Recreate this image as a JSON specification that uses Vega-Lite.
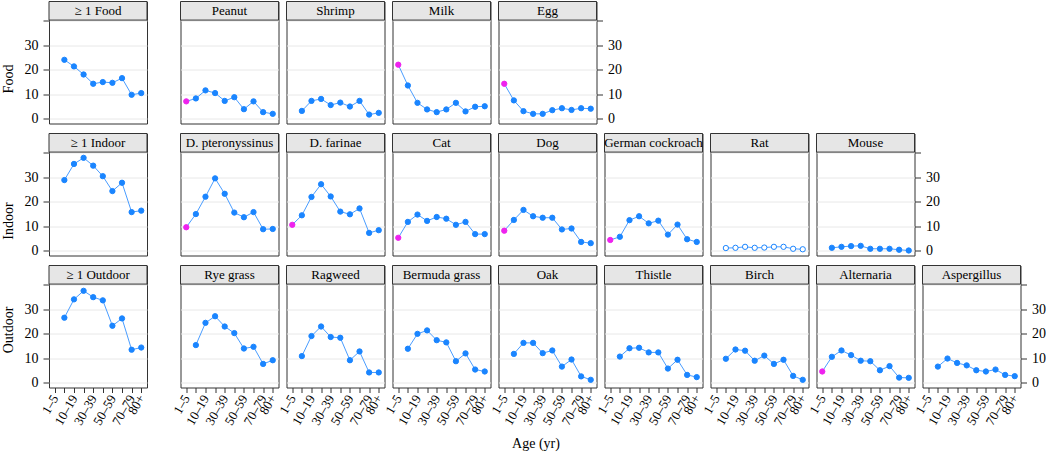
{
  "$schema": "https://vega.github.io/schema/vega-lite/v6.json",
  "padding": {"left": 0, "top": 0.5, "right": 0, "bottom": 0},
  "config": {
    "font": "Liberation Serif",
    "view": {"stroke": "#333333", "strokeWidth": 1},
    "axis": {"labelColor": "black", "tickColor": "#333333", "titleColor": "black", "labelFont": "Liberation Serif", "titleFont": "Liberation Serif", "grid": false},
    "text": {"font": "Liberation Serif"},
    "title": {"font": "Liberation Serif"}
  },
  "title": {"text": "Age (yr)", "orient": "bottom", "anchor": "middle", "fontSize": 14, "fontWeight": "normal", "offset": 9, "dx": 13, "color": "black"},
  "datasets": {
    "d": [
      {"row":"Food","allergen":"≥ 1 Food","age":"6–9","pct":24.0},
      {"row":"Food","allergen":"≥ 1 Food","age":"10–19","pct":21.3},
      {"row":"Food","allergen":"≥ 1 Food","age":"20–29","pct":18.0},
      {"row":"Food","allergen":"≥ 1 Food","age":"30–39","pct":14.2},
      {"row":"Food","allergen":"≥ 1 Food","age":"40–49","pct":14.9},
      {"row":"Food","allergen":"≥ 1 Food","age":"50–59","pct":14.6},
      {"row":"Food","allergen":"≥ 1 Food","age":"60–69","pct":16.5},
      {"row":"Food","allergen":"≥ 1 Food","age":"70–79","pct":9.7},
      {"row":"Food","allergen":"≥ 1 Food","age":"80+","pct":10.4},
      {"row":"Food","allergen":"Peanut","age":"1–5","pct":7.0},
      {"row":"Food","allergen":"Peanut","age":"6–9","pct":8.2},
      {"row":"Food","allergen":"Peanut","age":"10–19","pct":11.5},
      {"row":"Food","allergen":"Peanut","age":"20–29","pct":10.4},
      {"row":"Food","allergen":"Peanut","age":"30–39","pct":7.2},
      {"row":"Food","allergen":"Peanut","age":"40–49","pct":8.7},
      {"row":"Food","allergen":"Peanut","age":"50–59","pct":3.8},
      {"row":"Food","allergen":"Peanut","age":"60–69","pct":7.0},
      {"row":"Food","allergen":"Peanut","age":"70–79","pct":2.6},
      {"row":"Food","allergen":"Peanut","age":"80+","pct":1.9},
      {"row":"Food","allergen":"Shrimp","age":"6–9","pct":3.1},
      {"row":"Food","allergen":"Shrimp","age":"10–19","pct":7.2},
      {"row":"Food","allergen":"Shrimp","age":"20–29","pct":8.0},
      {"row":"Food","allergen":"Shrimp","age":"30–39","pct":5.5},
      {"row":"Food","allergen":"Shrimp","age":"40–49","pct":6.5},
      {"row":"Food","allergen":"Shrimp","age":"50–59","pct":4.9},
      {"row":"Food","allergen":"Shrimp","age":"60–69","pct":7.2},
      {"row":"Food","allergen":"Shrimp","age":"70–79","pct":1.6},
      {"row":"Food","allergen":"Shrimp","age":"80+","pct":2.3},
      {"row":"Food","allergen":"Milk","age":"1–5","pct":22.0},
      {"row":"Food","allergen":"Milk","age":"6–9","pct":13.5},
      {"row":"Food","allergen":"Milk","age":"10–19","pct":6.4},
      {"row":"Food","allergen":"Milk","age":"20–29","pct":3.7},
      {"row":"Food","allergen":"Milk","age":"30–39","pct":2.6},
      {"row":"Food","allergen":"Milk","age":"40–49","pct":3.7},
      {"row":"Food","allergen":"Milk","age":"50–59","pct":6.4},
      {"row":"Food","allergen":"Milk","age":"60–69","pct":2.9},
      {"row":"Food","allergen":"Milk","age":"70–79","pct":4.8},
      {"row":"Food","allergen":"Milk","age":"80+","pct":5.0},
      {"row":"Food","allergen":"Egg","age":"1–5","pct":14.2},
      {"row":"Food","allergen":"Egg","age":"6–9","pct":7.4},
      {"row":"Food","allergen":"Egg","age":"10–19","pct":3.0},
      {"row":"Food","allergen":"Egg","age":"20–29","pct":1.9},
      {"row":"Food","allergen":"Egg","age":"30–39","pct":1.9},
      {"row":"Food","allergen":"Egg","age":"40–49","pct":3.4},
      {"row":"Food","allergen":"Egg","age":"50–59","pct":4.2},
      {"row":"Food","allergen":"Egg","age":"60–69","pct":3.5},
      {"row":"Food","allergen":"Egg","age":"70–79","pct":4.2},
      {"row":"Food","allergen":"Egg","age":"80+","pct":4.0},
      {"row":"Indoor","allergen":"≥ 1 Indoor","age":"6–9","pct":28.8},
      {"row":"Indoor","allergen":"≥ 1 Indoor","age":"10–19","pct":35.4},
      {"row":"Indoor","allergen":"≥ 1 Indoor","age":"20–29","pct":37.9},
      {"row":"Indoor","allergen":"≥ 1 Indoor","age":"30–39","pct":34.7},
      {"row":"Indoor","allergen":"≥ 1 Indoor","age":"40–49","pct":30.4},
      {"row":"Indoor","allergen":"≥ 1 Indoor","age":"50–59","pct":24.3},
      {"row":"Indoor","allergen":"≥ 1 Indoor","age":"60–69","pct":27.7},
      {"row":"Indoor","allergen":"≥ 1 Indoor","age":"70–79","pct":15.7},
      {"row":"Indoor","allergen":"≥ 1 Indoor","age":"80+","pct":16.3},
      {"row":"Indoor","allergen":"D. pteronyssinus","age":"1–5","pct":9.5},
      {"row":"Indoor","allergen":"D. pteronyssinus","age":"6–9","pct":14.9},
      {"row":"Indoor","allergen":"D. pteronyssinus","age":"10–19","pct":22.0},
      {"row":"Indoor","allergen":"D. pteronyssinus","age":"20–29","pct":29.5},
      {"row":"Indoor","allergen":"D. pteronyssinus","age":"30–39","pct":23.2},
      {"row":"Indoor","allergen":"D. pteronyssinus","age":"40–49","pct":15.5},
      {"row":"Indoor","allergen":"D. pteronyssinus","age":"50–59","pct":13.6},
      {"row":"Indoor","allergen":"D. pteronyssinus","age":"60–69","pct":15.7},
      {"row":"Indoor","allergen":"D. pteronyssinus","age":"70–79","pct":8.7},
      {"row":"Indoor","allergen":"D. pteronyssinus","age":"80+","pct":8.8},
      {"row":"Indoor","allergen":"D. farinae","age":"1–5","pct":10.5},
      {"row":"Indoor","allergen":"D. farinae","age":"6–9","pct":14.4},
      {"row":"Indoor","allergen":"D. farinae","age":"10–19","pct":21.9},
      {"row":"Indoor","allergen":"D. farinae","age":"20–29","pct":27.1},
      {"row":"Indoor","allergen":"D. farinae","age":"30–39","pct":22.1},
      {"row":"Indoor","allergen":"D. farinae","age":"40–49","pct":15.9},
      {"row":"Indoor","allergen":"D. farinae","age":"50–59","pct":14.8},
      {"row":"Indoor","allergen":"D. farinae","age":"60–69","pct":17.2},
      {"row":"Indoor","allergen":"D. farinae","age":"70–79","pct":7.2},
      {"row":"Indoor","allergen":"D. farinae","age":"80+","pct":8.3},
      {"row":"Indoor","allergen":"Cat","age":"1–5","pct":5.2},
      {"row":"Indoor","allergen":"Cat","age":"6–9","pct":11.7},
      {"row":"Indoor","allergen":"Cat","age":"10–19","pct":14.7},
      {"row":"Indoor","allergen":"Cat","age":"20–29","pct":12.1},
      {"row":"Indoor","allergen":"Cat","age":"30–39","pct":13.7},
      {"row":"Indoor","allergen":"Cat","age":"40–49","pct":13.0},
      {"row":"Indoor","allergen":"Cat","age":"50–59","pct":10.5},
      {"row":"Indoor","allergen":"Cat","age":"60–69","pct":11.7},
      {"row":"Indoor","allergen":"Cat","age":"70–79","pct":6.7},
      {"row":"Indoor","allergen":"Cat","age":"80+","pct":6.7},
      {"row":"Indoor","allergen":"Dog","age":"1–5","pct":8.1},
      {"row":"Indoor","allergen":"Dog","age":"6–9","pct":12.5},
      {"row":"Indoor","allergen":"Dog","age":"10–19","pct":16.6},
      {"row":"Indoor","allergen":"Dog","age":"20–29","pct":14.0},
      {"row":"Indoor","allergen":"Dog","age":"30–39","pct":13.4},
      {"row":"Indoor","allergen":"Dog","age":"40–49","pct":13.4},
      {"row":"Indoor","allergen":"Dog","age":"50–59","pct":8.6},
      {"row":"Indoor","allergen":"Dog","age":"60–69","pct":9.0},
      {"row":"Indoor","allergen":"Dog","age":"70–79","pct":3.5},
      {"row":"Indoor","allergen":"Dog","age":"80+","pct":3.0},
      {"row":"Indoor","allergen":"German cockroach","age":"1–5","pct":4.3},
      {"row":"Indoor","allergen":"German cockroach","age":"6–9","pct":5.6},
      {"row":"Indoor","allergen":"German cockroach","age":"10–19","pct":12.4},
      {"row":"Indoor","allergen":"German cockroach","age":"20–29","pct":14.0},
      {"row":"Indoor","allergen":"German cockroach","age":"30–39","pct":11.1},
      {"row":"Indoor","allergen":"German cockroach","age":"40–49","pct":12.2},
      {"row":"Indoor","allergen":"German cockroach","age":"50–59","pct":6.5},
      {"row":"Indoor","allergen":"German cockroach","age":"60–69","pct":10.6},
      {"row":"Indoor","allergen":"German cockroach","age":"70–79","pct":4.6},
      {"row":"Indoor","allergen":"German cockroach","age":"80+","pct":3.5},
      {"row":"Indoor","allergen":"Rat","age":"6–9","pct":1.0},
      {"row":"Indoor","allergen":"Rat","age":"10–19","pct":1.1},
      {"row":"Indoor","allergen":"Rat","age":"20–29","pct":1.5},
      {"row":"Indoor","allergen":"Rat","age":"30–39","pct":1.1},
      {"row":"Indoor","allergen":"Rat","age":"40–49","pct":1.2},
      {"row":"Indoor","allergen":"Rat","age":"50–59","pct":1.5},
      {"row":"Indoor","allergen":"Rat","age":"60–69","pct":1.5},
      {"row":"Indoor","allergen":"Rat","age":"70–79","pct":0.7},
      {"row":"Indoor","allergen":"Rat","age":"80+","pct":0.5},
      {"row":"Indoor","allergen":"Mouse","age":"6–9","pct":1.1},
      {"row":"Indoor","allergen":"Mouse","age":"10–19","pct":1.5},
      {"row":"Indoor","allergen":"Mouse","age":"20–29","pct":1.8},
      {"row":"Indoor","allergen":"Mouse","age":"30–39","pct":1.9},
      {"row":"Indoor","allergen":"Mouse","age":"40–49","pct":0.7},
      {"row":"Indoor","allergen":"Mouse","age":"50–59","pct":0.7},
      {"row":"Indoor","allergen":"Mouse","age":"60–69","pct":0.7},
      {"row":"Indoor","allergen":"Mouse","age":"70–79","pct":0.3},
      {"row":"Indoor","allergen":"Mouse","age":"80+","pct":0.0},
      {"row":"Outdoor","allergen":"≥ 1 Outdoor","age":"6–9","pct":26.5},
      {"row":"Outdoor","allergen":"≥ 1 Outdoor","age":"10–19","pct":34.0},
      {"row":"Outdoor","allergen":"≥ 1 Outdoor","age":"20–29","pct":37.5},
      {"row":"Outdoor","allergen":"≥ 1 Outdoor","age":"30–39","pct":34.9},
      {"row":"Outdoor","allergen":"≥ 1 Outdoor","age":"40–49","pct":33.6},
      {"row":"Outdoor","allergen":"≥ 1 Outdoor","age":"50–59","pct":23.2},
      {"row":"Outdoor","allergen":"≥ 1 Outdoor","age":"60–69","pct":26.2},
      {"row":"Outdoor","allergen":"≥ 1 Outdoor","age":"70–79","pct":13.4},
      {"row":"Outdoor","allergen":"≥ 1 Outdoor","age":"80+","pct":14.3},
      {"row":"Outdoor","allergen":"Rye grass","age":"6–9","pct":15.3},
      {"row":"Outdoor","allergen":"Rye grass","age":"10–19","pct":24.4},
      {"row":"Outdoor","allergen":"Rye grass","age":"20–29","pct":27.1},
      {"row":"Outdoor","allergen":"Rye grass","age":"30–39","pct":22.9},
      {"row":"Outdoor","allergen":"Rye grass","age":"40–49","pct":20.2},
      {"row":"Outdoor","allergen":"Rye grass","age":"50–59","pct":13.9},
      {"row":"Outdoor","allergen":"Rye grass","age":"60–69","pct":14.6},
      {"row":"Outdoor","allergen":"Rye grass","age":"70–79","pct":7.6},
      {"row":"Outdoor","allergen":"Rye grass","age":"80+","pct":9.1},
      {"row":"Outdoor","allergen":"Ragweed","age":"6–9","pct":10.8},
      {"row":"Outdoor","allergen":"Ragweed","age":"10–19","pct":19.0},
      {"row":"Outdoor","allergen":"Ragweed","age":"20–29","pct":22.9},
      {"row":"Outdoor","allergen":"Ragweed","age":"30–39","pct":18.6},
      {"row":"Outdoor","allergen":"Ragweed","age":"40–49","pct":18.3},
      {"row":"Outdoor","allergen":"Ragweed","age":"50–59","pct":9.1},
      {"row":"Outdoor","allergen":"Ragweed","age":"60–69","pct":12.7},
      {"row":"Outdoor","allergen":"Ragweed","age":"70–79","pct":4.1},
      {"row":"Outdoor","allergen":"Ragweed","age":"80+","pct":4.1},
      {"row":"Outdoor","allergen":"Bermuda grass","age":"6–9","pct":13.8},
      {"row":"Outdoor","allergen":"Bermuda grass","age":"10–19","pct":19.9},
      {"row":"Outdoor","allergen":"Bermuda grass","age":"20–29","pct":21.3},
      {"row":"Outdoor","allergen":"Bermuda grass","age":"30–39","pct":17.3},
      {"row":"Outdoor","allergen":"Bermuda grass","age":"40–49","pct":16.4},
      {"row":"Outdoor","allergen":"Bermuda grass","age":"50–59","pct":8.7},
      {"row":"Outdoor","allergen":"Bermuda grass","age":"60–69","pct":11.9},
      {"row":"Outdoor","allergen":"Bermuda grass","age":"70–79","pct":5.3},
      {"row":"Outdoor","allergen":"Bermuda grass","age":"80+","pct":4.5},
      {"row":"Outdoor","allergen":"Oak","age":"6–9","pct":11.7},
      {"row":"Outdoor","allergen":"Oak","age":"10–19","pct":16.2},
      {"row":"Outdoor","allergen":"Oak","age":"20–29","pct":16.2},
      {"row":"Outdoor","allergen":"Oak","age":"30–39","pct":12.0},
      {"row":"Outdoor","allergen":"Oak","age":"40–49","pct":13.1},
      {"row":"Outdoor","allergen":"Oak","age":"50–59","pct":6.5},
      {"row":"Outdoor","allergen":"Oak","age":"60–69","pct":9.4},
      {"row":"Outdoor","allergen":"Oak","age":"70–79","pct":2.5},
      {"row":"Outdoor","allergen":"Oak","age":"80+","pct":1.1},
      {"row":"Outdoor","allergen":"Thistle","age":"6–9","pct":10.6},
      {"row":"Outdoor","allergen":"Thistle","age":"10–19","pct":14.0},
      {"row":"Outdoor","allergen":"Thistle","age":"20–29","pct":14.2},
      {"row":"Outdoor","allergen":"Thistle","age":"30–39","pct":12.3},
      {"row":"Outdoor","allergen":"Thistle","age":"40–49","pct":12.3},
      {"row":"Outdoor","allergen":"Thistle","age":"50–59","pct":5.7},
      {"row":"Outdoor","allergen":"Thistle","age":"60–69","pct":9.3},
      {"row":"Outdoor","allergen":"Thistle","age":"70–79","pct":3.1},
      {"row":"Outdoor","allergen":"Thistle","age":"80+","pct":2.2},
      {"row":"Outdoor","allergen":"Birch","age":"6–9","pct":9.7},
      {"row":"Outdoor","allergen":"Birch","age":"10–19","pct":13.5},
      {"row":"Outdoor","allergen":"Birch","age":"20–29","pct":13.0},
      {"row":"Outdoor","allergen":"Birch","age":"30–39","pct":8.9},
      {"row":"Outdoor","allergen":"Birch","age":"40–49","pct":11.0},
      {"row":"Outdoor","allergen":"Birch","age":"50–59","pct":7.6},
      {"row":"Outdoor","allergen":"Birch","age":"60–69","pct":9.3},
      {"row":"Outdoor","allergen":"Birch","age":"70–79","pct":2.7},
      {"row":"Outdoor","allergen":"Birch","age":"80+","pct":1.1},
      {"row":"Outdoor","allergen":"Alternaria","age":"1–5","pct":4.5},
      {"row":"Outdoor","allergen":"Alternaria","age":"6–9","pct":10.5},
      {"row":"Outdoor","allergen":"Alternaria","age":"10–19","pct":13.1},
      {"row":"Outdoor","allergen":"Alternaria","age":"20–29","pct":11.2},
      {"row":"Outdoor","allergen":"Alternaria","age":"30–39","pct":8.9},
      {"row":"Outdoor","allergen":"Alternaria","age":"40–49","pct":8.7},
      {"row":"Outdoor","allergen":"Alternaria","age":"50–59","pct":5.0},
      {"row":"Outdoor","allergen":"Alternaria","age":"60–69","pct":6.7},
      {"row":"Outdoor","allergen":"Alternaria","age":"70–79","pct":2.0},
      {"row":"Outdoor","allergen":"Alternaria","age":"80+","pct":1.9},
      {"row":"Outdoor","allergen":"Aspergillus","age":"6–9","pct":6.5},
      {"row":"Outdoor","allergen":"Aspergillus","age":"10–19","pct":9.8},
      {"row":"Outdoor","allergen":"Aspergillus","age":"20–29","pct":8.0},
      {"row":"Outdoor","allergen":"Aspergillus","age":"30–39","pct":7.0},
      {"row":"Outdoor","allergen":"Aspergillus","age":"40–49","pct":5.0},
      {"row":"Outdoor","allergen":"Aspergillus","age":"50–59","pct":4.5},
      {"row":"Outdoor","allergen":"Aspergillus","age":"60–69","pct":5.3},
      {"row":"Outdoor","allergen":"Aspergillus","age":"70–79","pct":3.1},
      {"row":"Outdoor","allergen":"Aspergillus","age":"80+","pct":2.6}
    ]
  },
  "spacing": 6,
  "vconcat": [
    {
      "hconcat": [
        {
          "data": {"name": "d"},
          "transform": [{"filter": "datum.row === 'Food' && indexof(datum.allergen, '≥') === 0"}],
          "width": 98, "height": 122,
          "layer": [
            {"transform": [{"aggregate": [{"op": "count", "as": "n"}], "groupby": ["allergen"]}],
             "mark": {"type": "rect", "fill": "#e6e6e6", "stroke": "#333333", "strokeWidth": 1},
             "encoding": {"y": {"datum": 40.25, "type": "quantitative", "scale": {"domain": [-2.05, 47.85], "nice": false, "zero": false}, "axis": {"values": [0,10,20,30,40], "labelExpr": "datum.value === 40 ? '' : datum.label", "title": "Food", "titleFontSize": 14, "titleFontWeight": "normal", "titlePadding": 9, "titleY": 77, "domain": false, "tickSize": 6, "labelPadding": 5, "labelFontSize": 14, "grid": true, "gridColor": "#e8e8e8"}}, "y2": {"datum": 47.85}}},
            {"transform": [{"aggregate": [{"op": "count", "as": "n"}], "groupby": ["allergen"]}],
             "mark": {"type": "text", "fontSize": 13, "baseline": "middle", "color": "black"},
             "encoding": {"y": {"datum": 44.1, "type": "quantitative", "axis": {"values": [0,10,20,30,40], "labelExpr": "datum.value === 40 ? '' : datum.label", "title": "Food", "titleFontSize": 14, "titleFontWeight": "normal", "titlePadding": 9, "titleY": 77, "domain": false, "tickSize": 6, "labelPadding": 5, "labelFontSize": 14, "grid": true, "gridColor": "#e8e8e8"}}, "text": {"field": "allergen"}}},
            {"mark": {"type": "line", "color": "#4a9dff", "strokeWidth": 1},
             "encoding": {
               "x": {"field": "age", "type": "ordinal", "scale": {"type": "point", "padding": 0.6, "domain": ["1–5","6–9","10–19","20–29","30–39","40–49","50–59","60–69","70–79","80+"]}, "axis": null},
               "y": {"field": "pct", "type": "quantitative", "axis": {"values": [0,10,20,30,40], "labelExpr": "datum.value === 40 ? '' : datum.label", "title": "Food", "titleFontSize": 14, "titleFontWeight": "normal", "titlePadding": 9, "titleY": 77, "domain": false, "tickSize": 6, "labelPadding": 5, "labelFontSize": 14, "grid": true, "gridColor": "#e8e8e8"}}}},
            {"mark": {"type": "point", "filled": true, "size": 28, "opacity": 1, "strokeWidth": 1},
             "encoding": {
               "x": {"field": "age", "type": "ordinal", "axis": null},
               "y": {"field": "pct", "type": "quantitative", "axis": {"values": [0,10,20,30,40], "labelExpr": "datum.value === 40 ? '' : datum.label", "title": "Food", "titleFontSize": 14, "titleFontWeight": "normal", "titlePadding": 9, "titleY": 77, "domain": false, "tickSize": 6, "labelPadding": 5, "labelFontSize": 14, "grid": true, "gridColor": "#e8e8e8"}},
               "fill": {"condition": [{"test": "datum.age === '1–5'", "value": "#ee22ee"}, {"test": "datum.allergen === 'Rat'", "value": "#ffffff"}], "value": "#1a85ff"},
               "stroke": {"condition": {"test": "datum.age === '1–5'", "value": "#ee22ee"}, "value": "#1a85ff"}}}
          ]
        },
        {
          "data": {"name": "d"},
          "transform": [{"filter": "datum.row === 'Food' && indexof(datum.allergen, '≥') !== 0"}],
          "facet": {"column": {"field": "allergen", "type": "nominal", "sort": ["Peanut","Shrimp","Milk","Egg"], "title": null, "header": {"labels": false, "title": null}}},
          "spacing": {"column": 8},
          "bounds": "flush",
          "spec": {
            "width": 98, "height": 122,
            "layer": [
              {"transform": [{"aggregate": [{"op": "count", "as": "n"}], "groupby": ["allergen"]}],
               "mark": {"type": "rect", "fill": "#e6e6e6", "stroke": "#333333", "strokeWidth": 1},
               "encoding": {"y": {"datum": 40.25, "type": "quantitative", "scale": {"domain": [-2.05, 47.85], "nice": false, "zero": false}, "axis": {"orient": "right", "values": [0,10,20,30,40], "labelExpr": "datum.value === 40 ? '' : datum.label", "title": null, "domain": false, "tickSize": 6, "labelPadding": 5, "labelFontSize": 14, "grid": true, "gridColor": "#e8e8e8"}}, "y2": {"datum": 47.85}}},
              {"transform": [{"aggregate": [{"op": "count", "as": "n"}], "groupby": ["allergen"]}],
               "mark": {"type": "text", "fontSize": 13, "baseline": "middle", "color": "black"},
               "encoding": {"y": {"datum": 44.1, "type": "quantitative", "axis": {"orient": "right", "values": [0,10,20,30,40], "labelExpr": "datum.value === 40 ? '' : datum.label", "title": null, "domain": false, "tickSize": 6, "labelPadding": 5, "labelFontSize": 14, "grid": true, "gridColor": "#e8e8e8"}}, "text": {"field": "allergen"}}},
              {"mark": {"type": "line", "color": "#4a9dff", "strokeWidth": 1},
               "encoding": {
                 "x": {"field": "age", "type": "ordinal", "scale": {"type": "point", "padding": 0.6, "domain": ["1–5","6–9","10–19","20–29","30–39","40–49","50–59","60–69","70–79","80+"]}, "axis": null},
                 "y": {"field": "pct", "type": "quantitative", "axis": {"orient": "right", "values": [0,10,20,30,40], "labelExpr": "datum.value === 40 ? '' : datum.label", "title": null, "domain": false, "tickSize": 6, "labelPadding": 5, "labelFontSize": 14, "grid": true, "gridColor": "#e8e8e8"}}}},
              {"mark": {"type": "point", "filled": true, "size": 28, "opacity": 1, "strokeWidth": 1},
               "encoding": {
                 "x": {"field": "age", "type": "ordinal", "axis": null},
                 "y": {"field": "pct", "type": "quantitative", "axis": {"orient": "right", "values": [0,10,20,30,40], "labelExpr": "datum.value === 40 ? '' : datum.label", "title": null, "domain": false, "tickSize": 6, "labelPadding": 5, "labelFontSize": 14, "grid": true, "gridColor": "#e8e8e8"}},
                 "fill": {"condition": [{"test": "datum.age === '1–5'", "value": "#ee22ee"}, {"test": "datum.allergen === 'Rat'", "value": "#ffffff"}], "value": "#1a85ff"},
                 "stroke": {"condition": {"test": "datum.age === '1–5'", "value": "#ee22ee"}, "value": "#1a85ff"}}}
            ]
          }
        }
      ],
      "spacing": 33.5,
      "bounds": "flush"
    },
    {
      "hconcat": [
        {
          "data": {"name": "d"},
          "transform": [{"filter": "datum.row === 'Indoor' && indexof(datum.allergen, '≥') === 0"}],
          "width": 98, "height": 122,
          "layer": [
            {"transform": [{"aggregate": [{"op": "count", "as": "n"}], "groupby": ["allergen"]}],
             "mark": {"type": "rect", "fill": "#e6e6e6", "stroke": "#333333", "strokeWidth": 1},
             "encoding": {"y": {"datum": 40.25, "type": "quantitative", "scale": {"domain": [-2.05, 47.85], "nice": false, "zero": false}, "axis": {"values": [0,10,20,30,40], "labelExpr": "datum.value === 40 ? '' : datum.label", "title": "Indoor", "titleFontSize": 14, "titleFontWeight": "normal", "titlePadding": 9, "titleY": 87, "domain": false, "tickSize": 6, "labelPadding": 5, "labelFontSize": 14, "grid": true, "gridColor": "#e8e8e8"}}, "y2": {"datum": 47.85}}},
            {"transform": [{"aggregate": [{"op": "count", "as": "n"}], "groupby": ["allergen"]}],
             "mark": {"type": "text", "fontSize": 13, "baseline": "middle", "color": "black"},
             "encoding": {"y": {"datum": 44.1, "type": "quantitative", "axis": {"values": [0,10,20,30,40], "labelExpr": "datum.value === 40 ? '' : datum.label", "title": "Indoor", "titleFontSize": 14, "titleFontWeight": "normal", "titlePadding": 9, "titleY": 87, "domain": false, "tickSize": 6, "labelPadding": 5, "labelFontSize": 14, "grid": true, "gridColor": "#e8e8e8"}}, "text": {"field": "allergen"}}},
            {"mark": {"type": "line", "color": "#4a9dff", "strokeWidth": 1},
             "encoding": {
               "x": {"field": "age", "type": "ordinal", "scale": {"type": "point", "padding": 0.6, "domain": ["1–5","6–9","10–19","20–29","30–39","40–49","50–59","60–69","70–79","80+"]}, "axis": null},
               "y": {"field": "pct", "type": "quantitative", "axis": {"values": [0,10,20,30,40], "labelExpr": "datum.value === 40 ? '' : datum.label", "title": "Indoor", "titleFontSize": 14, "titleFontWeight": "normal", "titlePadding": 9, "titleY": 87, "domain": false, "tickSize": 6, "labelPadding": 5, "labelFontSize": 14, "grid": true, "gridColor": "#e8e8e8"}}}},
            {"mark": {"type": "point", "filled": true, "size": 28, "opacity": 1, "strokeWidth": 1},
             "encoding": {
               "x": {"field": "age", "type": "ordinal", "axis": null},
               "y": {"field": "pct", "type": "quantitative", "axis": {"values": [0,10,20,30,40], "labelExpr": "datum.value === 40 ? '' : datum.label", "title": "Indoor", "titleFontSize": 14, "titleFontWeight": "normal", "titlePadding": 9, "titleY": 87, "domain": false, "tickSize": 6, "labelPadding": 5, "labelFontSize": 14, "grid": true, "gridColor": "#e8e8e8"}},
               "fill": {"condition": [{"test": "datum.age === '1–5'", "value": "#ee22ee"}, {"test": "datum.allergen === 'Rat'", "value": "#ffffff"}], "value": "#1a85ff"},
               "stroke": {"condition": {"test": "datum.age === '1–5'", "value": "#ee22ee"}, "value": "#1a85ff"}}}
          ]
        },
        {
          "data": {"name": "d"},
          "transform": [{"filter": "datum.row === 'Indoor' && indexof(datum.allergen, '≥') !== 0"}],
          "facet": {"column": {"field": "allergen", "type": "nominal", "sort": ["D. pteronyssinus","D. farinae","Cat","Dog","German cockroach","Rat","Mouse"], "title": null, "header": {"labels": false, "title": null}}},
          "spacing": {"column": 8},
          "bounds": "flush",
          "spec": {
            "width": 98, "height": 122,
            "layer": [
              {"transform": [{"aggregate": [{"op": "count", "as": "n"}], "groupby": ["allergen"]}],
               "mark": {"type": "rect", "fill": "#e6e6e6", "stroke": "#333333", "strokeWidth": 1},
               "encoding": {"y": {"datum": 40.25, "type": "quantitative", "scale": {"domain": [-2.05, 47.85], "nice": false, "zero": false}, "axis": {"orient": "right", "values": [0,10,20,30,40], "labelExpr": "datum.value === 40 ? '' : datum.label", "title": null, "domain": false, "tickSize": 6, "labelPadding": 5, "labelFontSize": 14, "grid": true, "gridColor": "#e8e8e8"}}, "y2": {"datum": 47.85}}},
              {"transform": [{"aggregate": [{"op": "count", "as": "n"}], "groupby": ["allergen"]}],
               "mark": {"type": "text", "fontSize": 13, "baseline": "middle", "color": "black"},
               "encoding": {"y": {"datum": 44.1, "type": "quantitative", "axis": {"orient": "right", "values": [0,10,20,30,40], "labelExpr": "datum.value === 40 ? '' : datum.label", "title": null, "domain": false, "tickSize": 6, "labelPadding": 5, "labelFontSize": 14, "grid": true, "gridColor": "#e8e8e8"}}, "text": {"field": "allergen"}}},
              {"mark": {"type": "line", "color": "#4a9dff", "strokeWidth": 1},
               "encoding": {
                 "x": {"field": "age", "type": "ordinal", "scale": {"type": "point", "padding": 0.6, "domain": ["1–5","6–9","10–19","20–29","30–39","40–49","50–59","60–69","70–79","80+"]}, "axis": null},
                 "y": {"field": "pct", "type": "quantitative", "axis": {"orient": "right", "values": [0,10,20,30,40], "labelExpr": "datum.value === 40 ? '' : datum.label", "title": null, "domain": false, "tickSize": 6, "labelPadding": 5, "labelFontSize": 14, "grid": true, "gridColor": "#e8e8e8"}}}},
              {"mark": {"type": "point", "filled": true, "size": 28, "opacity": 1, "strokeWidth": 1},
               "encoding": {
                 "x": {"field": "age", "type": "ordinal", "axis": null},
                 "y": {"field": "pct", "type": "quantitative", "axis": {"orient": "right", "values": [0,10,20,30,40], "labelExpr": "datum.value === 40 ? '' : datum.label", "title": null, "domain": false, "tickSize": 6, "labelPadding": 5, "labelFontSize": 14, "grid": true, "gridColor": "#e8e8e8"}},
                 "fill": {"condition": [{"test": "datum.age === '1–5'", "value": "#ee22ee"}, {"test": "datum.allergen === 'Rat'", "value": "#ffffff"}], "value": "#1a85ff"},
                 "stroke": {"condition": {"test": "datum.age === '1–5'", "value": "#ee22ee"}, "value": "#1a85ff"}}}
            ]
          }
        }
      ],
      "spacing": 33.5,
      "bounds": "flush"
    },
    {
      "hconcat": [
        {
          "data": {"name": "d"},
          "transform": [{"filter": "datum.row === 'Outdoor' && indexof(datum.allergen, '≥') === 0"}],
          "width": 98, "height": 122,
          "layer": [
            {"transform": [{"aggregate": [{"op": "count", "as": "n"}], "groupby": ["allergen"]}],
             "mark": {"type": "rect", "fill": "#e6e6e6", "stroke": "#333333", "strokeWidth": 1},
             "encoding": {"y": {"datum": 40.25, "type": "quantitative", "scale": {"domain": [-2.05, 47.85], "nice": false, "zero": false}, "axis": {"values": [0,10,20,30,40], "labelExpr": "datum.value === 40 ? '' : datum.label", "title": "Outdoor", "titleFontSize": 14, "titleFontWeight": "normal", "titlePadding": 9, "titleY": 64, "domain": false, "tickSize": 6, "labelPadding": 5, "labelFontSize": 14, "grid": true, "gridColor": "#e8e8e8"}}, "y2": {"datum": 47.85}}},
            {"transform": [{"aggregate": [{"op": "count", "as": "n"}], "groupby": ["allergen"]}],
             "mark": {"type": "text", "fontSize": 13, "baseline": "middle", "color": "black"},
             "encoding": {"y": {"datum": 44.1, "type": "quantitative", "axis": {"values": [0,10,20,30,40], "labelExpr": "datum.value === 40 ? '' : datum.label", "title": "Outdoor", "titleFontSize": 14, "titleFontWeight": "normal", "titlePadding": 9, "titleY": 64, "domain": false, "tickSize": 6, "labelPadding": 5, "labelFontSize": 14, "grid": true, "gridColor": "#e8e8e8"}}, "text": {"field": "allergen"}}},
            {"mark": {"type": "line", "color": "#4a9dff", "strokeWidth": 1},
             "encoding": {
               "x": {"field": "age", "type": "ordinal", "scale": {"type": "point", "padding": 0.6, "domain": ["1–5","6–9","10–19","20–29","30–39","40–49","50–59","60–69","70–79","80+"]}, "axis": {"title": null, "labelAngle": -60, "labelExpr": "indexof(['6–9','20–29','40–49','60–69'], datum.value) >= 0 ? '' : datum.label", "domain": false, "tickSize": 5, "labelPadding": 3, "labelFontSize": 13}},
               "y": {"field": "pct", "type": "quantitative", "axis": {"values": [0,10,20,30,40], "labelExpr": "datum.value === 40 ? '' : datum.label", "title": "Outdoor", "titleFontSize": 14, "titleFontWeight": "normal", "titlePadding": 9, "titleY": 64, "domain": false, "tickSize": 6, "labelPadding": 5, "labelFontSize": 14, "grid": true, "gridColor": "#e8e8e8"}}}},
            {"mark": {"type": "point", "filled": true, "size": 28, "opacity": 1, "strokeWidth": 1},
             "encoding": {
               "x": {"field": "age", "type": "ordinal", "axis": {"title": null, "labelAngle": -60, "labelExpr": "indexof(['6–9','20–29','40–49','60–69'], datum.value) >= 0 ? '' : datum.label", "domain": false, "tickSize": 5, "labelPadding": 3, "labelFontSize": 13}},
               "y": {"field": "pct", "type": "quantitative", "axis": {"values": [0,10,20,30,40], "labelExpr": "datum.value === 40 ? '' : datum.label", "title": "Outdoor", "titleFontSize": 14, "titleFontWeight": "normal", "titlePadding": 9, "titleY": 64, "domain": false, "tickSize": 6, "labelPadding": 5, "labelFontSize": 14, "grid": true, "gridColor": "#e8e8e8"}},
               "fill": {"condition": [{"test": "datum.age === '1–5'", "value": "#ee22ee"}, {"test": "datum.allergen === 'Rat'", "value": "#ffffff"}], "value": "#1a85ff"},
               "stroke": {"condition": {"test": "datum.age === '1–5'", "value": "#ee22ee"}, "value": "#1a85ff"}}}
          ]
        },
        {
          "data": {"name": "d"},
          "transform": [{"filter": "datum.row === 'Outdoor' && indexof(datum.allergen, '≥') !== 0"}],
          "facet": {"column": {"field": "allergen", "type": "nominal", "sort": ["Rye grass","Ragweed","Bermuda grass","Oak","Thistle","Birch","Alternaria","Aspergillus"], "title": null, "header": {"labels": false, "title": null}}},
          "spacing": {"column": 8},
          "bounds": "flush",
          "spec": {
            "width": 98, "height": 122,
            "layer": [
              {"transform": [{"aggregate": [{"op": "count", "as": "n"}], "groupby": ["allergen"]}],
               "mark": {"type": "rect", "fill": "#e6e6e6", "stroke": "#333333", "strokeWidth": 1},
               "encoding": {"y": {"datum": 40.25, "type": "quantitative", "scale": {"domain": [-2.05, 47.85], "nice": false, "zero": false}, "axis": {"orient": "right", "values": [0,10,20,30,40], "labelExpr": "datum.value === 40 ? '' : datum.label", "title": null, "domain": false, "tickSize": 6, "labelPadding": 5, "labelFontSize": 14, "grid": true, "gridColor": "#e8e8e8"}}, "y2": {"datum": 47.85}}},
              {"transform": [{"aggregate": [{"op": "count", "as": "n"}], "groupby": ["allergen"]}],
               "mark": {"type": "text", "fontSize": 13, "baseline": "middle", "color": "black"},
               "encoding": {"y": {"datum": 44.1, "type": "quantitative", "axis": {"orient": "right", "values": [0,10,20,30,40], "labelExpr": "datum.value === 40 ? '' : datum.label", "title": null, "domain": false, "tickSize": 6, "labelPadding": 5, "labelFontSize": 14, "grid": true, "gridColor": "#e8e8e8"}}, "text": {"field": "allergen"}}},
              {"mark": {"type": "line", "color": "#4a9dff", "strokeWidth": 1},
               "encoding": {
                 "x": {"field": "age", "type": "ordinal", "scale": {"type": "point", "padding": 0.6, "domain": ["1–5","6–9","10–19","20–29","30–39","40–49","50–59","60–69","70–79","80+"]}, "axis": {"title": null, "labelAngle": -60, "labelExpr": "indexof(['6–9','20–29','40–49','60–69'], datum.value) >= 0 ? '' : datum.label", "domain": false, "tickSize": 5, "labelPadding": 3, "labelFontSize": 13}},
                 "y": {"field": "pct", "type": "quantitative", "axis": {"orient": "right", "values": [0,10,20,30,40], "labelExpr": "datum.value === 40 ? '' : datum.label", "title": null, "domain": false, "tickSize": 6, "labelPadding": 5, "labelFontSize": 14, "grid": true, "gridColor": "#e8e8e8"}}}},
              {"mark": {"type": "point", "filled": true, "size": 28, "opacity": 1, "strokeWidth": 1},
               "encoding": {
                 "x": {"field": "age", "type": "ordinal", "axis": {"title": null, "labelAngle": -60, "labelExpr": "indexof(['6–9','20–29','40–49','60–69'], datum.value) >= 0 ? '' : datum.label", "domain": false, "tickSize": 5, "labelPadding": 3, "labelFontSize": 13}},
                 "y": {"field": "pct", "type": "quantitative", "axis": {"orient": "right", "values": [0,10,20,30,40], "labelExpr": "datum.value === 40 ? '' : datum.label", "title": null, "domain": false, "tickSize": 6, "labelPadding": 5, "labelFontSize": 14, "grid": true, "gridColor": "#e8e8e8"}},
                 "fill": {"condition": [{"test": "datum.age === '1–5'", "value": "#ee22ee"}, {"test": "datum.allergen === 'Rat'", "value": "#ffffff"}], "value": "#1a85ff"},
                 "stroke": {"condition": {"test": "datum.age === '1–5'", "value": "#ee22ee"}, "value": "#1a85ff"}}}
            ]
          }
        }
      ],
      "spacing": 33.5,
      "bounds": "flush"
    }
  ]
}
